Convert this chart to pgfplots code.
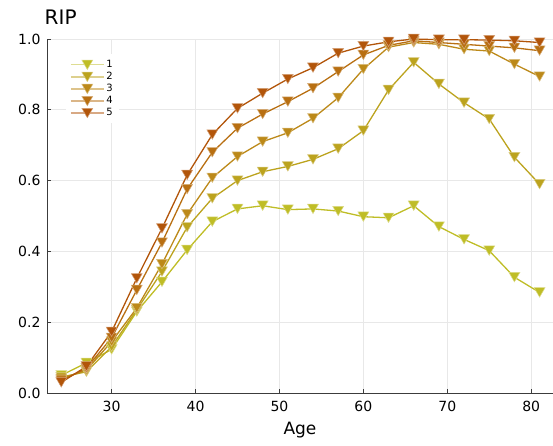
\documentclass[border=0pt]{standalone}
\usepackage{fontspec}
\setmainfont{DejaVu Sans}
\usepackage{pgfplots}
\usepackage{pgfplotstable}
\pgfplotsset{compat=1.18}
\definecolor{c1}{RGB}{191,189,38}
\definecolor{c2}{RGB}{188,163,30}
\definecolor{c3}{RGB}{188,137,25}
\definecolor{c4}{RGB}{184,111,18}
\definecolor{c5}{RGB}{178,85,10}
\definecolor{axisgray}{RGB}{60,60,60}

%% RIP by age, five series
\pgfplotstableread{
x   s1    s2    s3    s4    s5
24  0.050 0.045 0.040 0.035 0.030
27  0.085 0.060 0.065 0.070 0.075
30  0.123 0.131 0.145 0.156 0.173
33  0.230 0.235 0.240 0.291 0.324
36  0.314 0.343 0.364 0.425 0.465
39  0.404 0.468 0.505 0.576 0.616
42  0.484 0.550 0.608 0.680 0.730
45  0.520 0.600 0.668 0.748 0.804
48  0.529 0.625 0.710 0.788 0.847
51  0.518 0.640 0.735 0.823 0.887
54  0.520 0.660 0.776 0.861 0.919
57  0.514 0.690 0.834 0.908 0.960
60  0.498 0.741 0.915 0.955 0.980
63  0.495 0.856 0.977 0.982 0.992
66  0.529 0.934 0.990 0.995 1.000
69  0.470 0.873 0.985 0.990 0.998
72  0.434 0.820 0.971 0.985 0.998
75  0.402 0.774 0.966 0.980 0.997
78  0.327 0.666 0.929 0.975 0.995
81  0.284 0.590 0.894 0.967 0.990
}\ripdata

%% triangle marks centred on their box, as in the reference
\pgfplotsset{
  ser/.style={
    color=#1, line width=1.3pt, mark=triangle*, mark size=6.3pt,
    mark options={yshift=1.6pt, rotate=180, solid, fill=#1, draw=#1!55!white, line width=0.5pt},
  },
}

\begin{document}
\begin{tikzpicture}[x=1pt,y=1pt]
\path[use as bounding box] (0,0) rectangle (553,445);
\begin{axis}[
  at={(47pt,52pt)}, anchor=south west,
  scale only axis, width=506pt, height=354pt,
  xmin=22.3, xmax=82.6, ymin=0, ymax=1.0,
  clip=false,
  axis x line*=bottom, axis y line*=left,
  axis line style={draw=axisgray, line width=1pt, -},
  tick align=inside, major tick length=4pt,
  tick style={draw=axisgray, line width=0.8pt},
  xtick={30,40,50,60,70,80},
  ytick={0,0.2,0.4,0.6,0.8,1.0},
  yticklabel style={/pgf/number format/.cd, fixed, fixed zerofill, precision=1, /tikz/.cd, xshift=-3pt},
  xticklabel style={yshift=-5pt},
  /pgf/number format/assume math mode=true,
  every tick label/.style={font=\fontsize{14}{16}\selectfont, text=black},
  grid=major,
  grid style={draw=black!9, line width=0.8pt},
  xlabel={Age},
  xlabel style={font=\fontsize{17}{20}\selectfont, at={(axis description cs:0.5,0)}, anchor=base, yshift=-41pt},
  legend style={at={(axis description cs:0.0375,0.957)}, anchor=north west,
    draw=none, fill=white, font=\fontsize{10}{12}\selectfont,
    row sep=-0.8pt, inner sep=4pt, nodes={inner sep=2pt}},
  legend cell align=left,
  legend image code/.code={
    \draw[#1, mark=none, draw opacity=0.5] (0pt,0pt) -- (33pt,0pt);
    \draw[#1, only marks] plot coordinates {(16.5pt,0pt)};
  },
]
\addplot[ser=c1] table[x=x, y=s1] {\ripdata};
\addplot[ser=c2] table[x=x, y=s2] {\ripdata};
\addplot[ser=c3] table[x=x, y=s3] {\ripdata};
\addplot[ser=c4] table[x=x, y=s4] {\ripdata};
\addplot[ser=c5] table[x=x, y=s5] {\ripdata};
\legend{1,2,3,4,5}
\end{axis}
\node[anchor=base west, inner sep=0pt, font=\fontsize{20}{24}\selectfont] at (44.5,420) {RIP};
\end{tikzpicture}
\end{document}
